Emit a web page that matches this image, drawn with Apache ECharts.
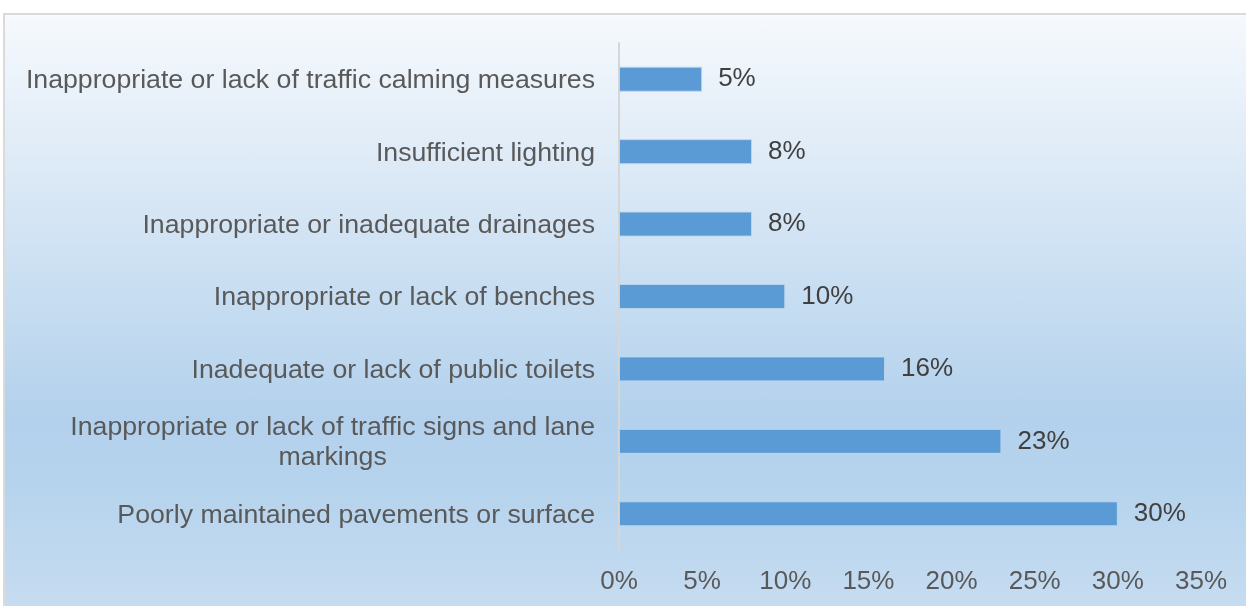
<!DOCTYPE html>
<html>
<head>
<meta charset="utf-8">
<title>Road infrastructure problems</title>
<script src="https://cdn.jsdelivr.net/npm/echarts@6/dist/echarts.min.js"></script>
<style>
  html, body { margin: 0; padding: 0; background: #ffffff; }
  body { width: 1246px; height: 606px; position: relative; overflow: hidden; }
  #panel {
    position: absolute; left: 3px; top: 13px; width: 1260px; height: 610px;
    border-left: 2px solid #dadada; border-top: 2px solid #dadada;
    background: linear-gradient(to bottom, #f6f9fd 0%, #b3d1ec 66%, #b5d3ed 76%, #c8ddf1 100%);
  }
  #chart { position: absolute; left: 0; top: 0; width: 1246px; height: 606px; }
</style>
</head>
<body>
<div id="panel"></div>
<div id="chart"></div>
<script>
// Problem categories, listed top to bottom
const categories = [
  'Inappropriate or lack of traffic calming measures',
  'Insufficient lighting',
  'Inappropriate or inadequate drainages',
  'Inappropriate or lack of benches',
  'Inadequate or lack of public toilets',
  'Inappropriate or lack of traffic signs and lane\nmarkings',
  'Poorly maintained pavements or surface'
];

// Share of respondents (%)
const shares = [5, 8, 8, 10, 16, 23, 30];

// Value axis ticks (%)
const axisMin = 0;
const axisMax = 35;
const axisStep = 5;

const FONT = "'Liberation Sans', Arial, sans-serif";
const SIZE = 26;
const CAT_SIZE = 26.7;

const chart = echarts.init(document.getElementById('chart'), null, { renderer: 'canvas' });

chart.setOption({
  backgroundColor: 'transparent',
  animation: false,
  textStyle: { fontFamily: FONT },
  grid: { left: 619, right: 45, top: 43, bottom: 56, containLabel: false },
  xAxis: {
    type: 'value',
    min: axisMin,
    max: axisMax,
    interval: axisStep,
    axisLine: { show: false },
    axisTick: { show: false },
    splitLine: { show: false },
    axisLabel: {
      formatter: '{value}%',
      color: '#595959',
      fontFamily: FONT,
      fontSize: SIZE,
      margin: 19
    }
  },
  yAxis: {
    type: 'category',
    inverse: true,
    data: categories,
    axisLine: { show: true, lineStyle: { color: '#d6d6d6', width: 2 } },
    axisTick: { show: false },
    axisLabel: {
      color: '#595959',
      fontFamily: FONT,
      fontSize: CAT_SIZE,
      margin: 24,
      align: 'right',
      lineHeight: 30,
      padding: [3, 0, 0, 0],
      formatter: function (v) {
        if (v.indexOf('\n') < 0) return v;
        return v.split('\n').map(function (line) { return '{c|' + line + '}'; }).join('\n');
      },
      rich: {
        c: { align: 'center', color: '#595959', fontFamily: FONT, fontSize: CAT_SIZE, lineHeight: 30 }
      }
    }
  },
  series: [{
    type: 'bar',
    data: shares,
    barWidth: 25,
    itemStyle: {
      color: '#5b9bd5',
      borderColor: 'rgba(190,215,240,0.9)',
      borderWidth: 1
    },
    label: {
      show: true,
      position: 'right',
      distance: 16,
      formatter: '{c}%',
      color: '#404040',
      fontFamily: FONT,
      fontSize: SIZE
    }
  }]
});
</script>
</body>
</html>
